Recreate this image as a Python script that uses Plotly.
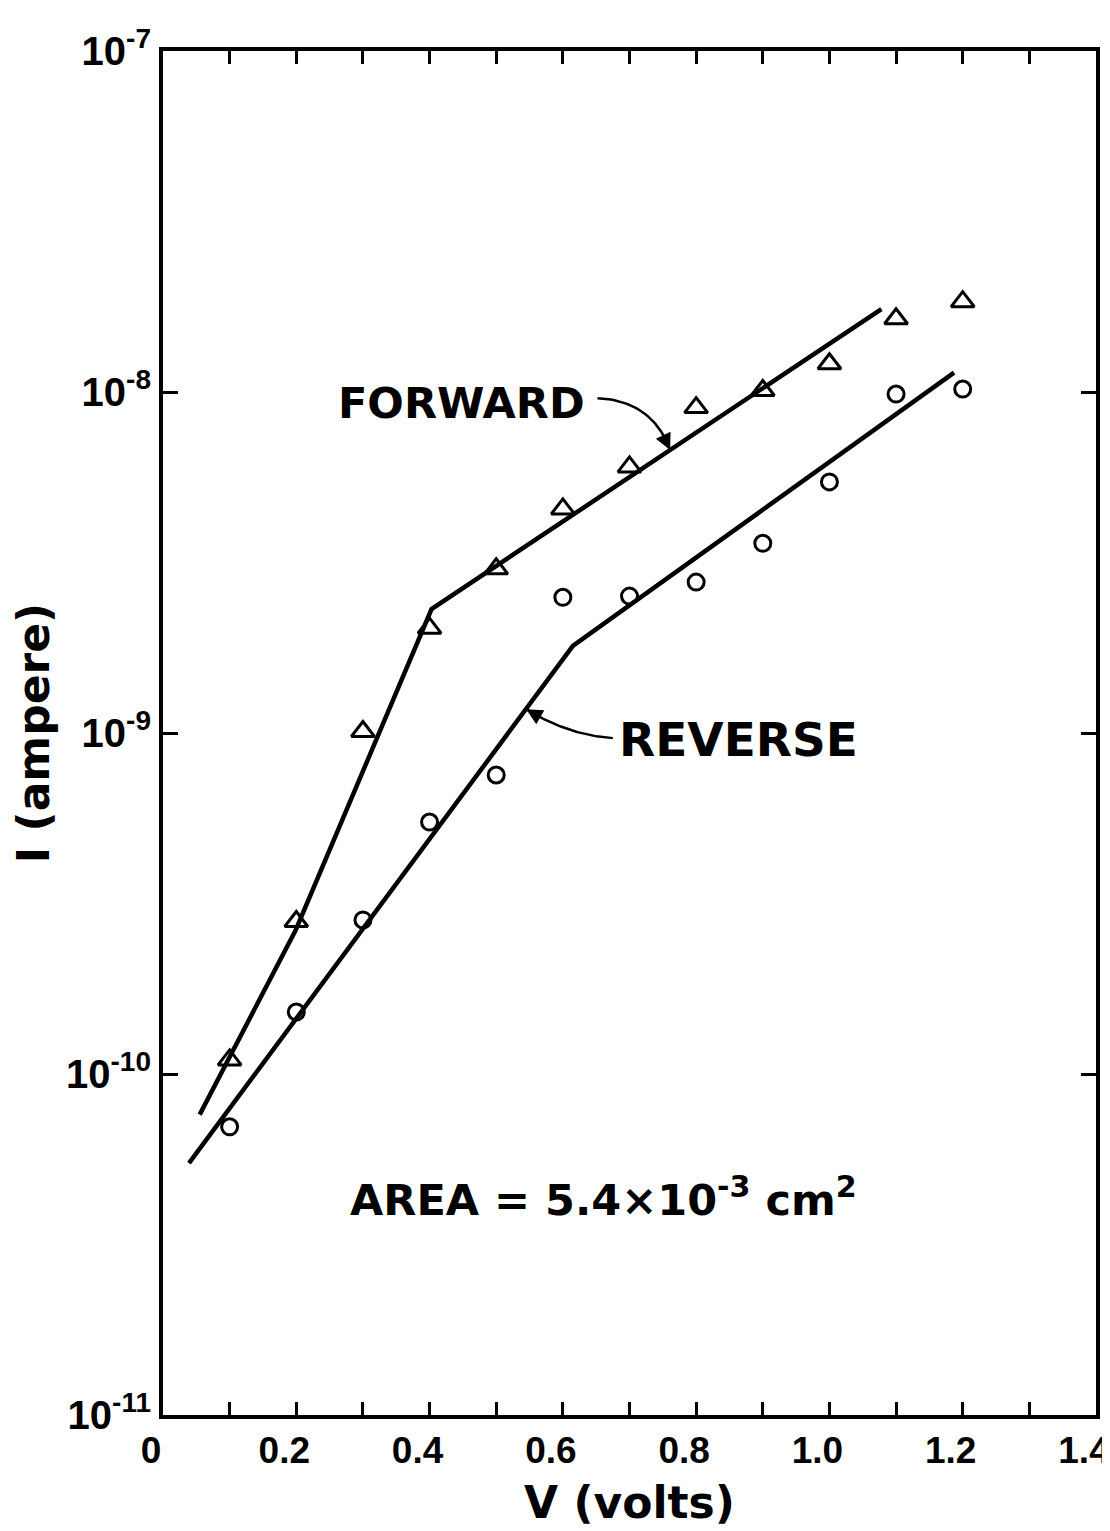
import numpy as np
import plotly.graph_objects as go

# ---------------- data ----------------
V_points = [0.1, 0.2, 0.3, 0.4, 0.5, 0.6, 0.7, 0.8, 0.9, 1.0, 1.1, 1.2]
I_forward = [1.1e-10, 2.8e-10, 1.01e-9, 2.03e-9, 3.03e-9, 4.54e-9,
             6.03e-9, 9.0e-9, 1.01e-8, 1.21e-8, 1.64e-8, 1.84e-8]
I_reverse = [7.0e-11, 1.52e-10, 2.83e-10, 5.48e-10, 7.53e-10, 2.5e-9,
             2.52e-9, 2.77e-9, 3.6e-9, 5.45e-9, 9.86e-9, 1.02e-8]

# fitted (hand-drawn) lines
V_fit_forward = [0.055, 0.199, 0.403, 1.078]
I_fit_forward = [7.6e-11, 2.64e-10, 2.31e-9, 1.75e-8]
V_fit_reverse = [0.039, 0.615, 1.187]
I_fit_reverse = [5.48e-11, 1.80e-9, 1.14e-8]

x_tick_vals = [0.0, 0.1, 0.2, 0.3, 0.4, 0.5, 0.6, 0.7, 0.8, 0.9, 1.0, 1.1, 1.2, 1.3, 1.4]
x_tick_text = ["0", "", "0.2", "", "0.4", "", "0.6", "", "0.8", "", "1.0", "", "1.2", "", "1.4"]
y_tick_vals = [1e-11, 1e-10, 1e-9, 1e-8, 1e-7]
y_tick_text = ["10<sup>-11</sup>", "10<sup>-10</sup>", "10<sup>-9</sup>",
               "10<sup>-8</sup>", "10<sup>-7</sup>"]

# annotation arrows: (start, control, tip) in (V, log10 I)
fwd_arrow = [(0.652, -8.018), (0.734, -8.026), (0.761, -8.170)]
rev_arrow = [(0.675, -9.015), (0.607, -9.006), (0.545, -8.930)]

FONT = "DejaVu Sans"
TICKFONT = "Liberation Sans"

W, H = 1110, 1531
ML, MR, MT, MB = 155, 22, 43, 124
PW, PH = W - ML - MR, H - MT - MB


def bezier(pts, n=40):
    (x0, y0), (x1, y1), (x2, y2) = pts
    t = np.linspace(0, 1, n)
    xs = (1 - t) ** 2 * x0 + 2 * (1 - t) * t * x1 + t ** 2 * x2
    ys = (1 - t) ** 2 * y0 + 2 * (1 - t) * t * y1 + t ** 2 * y2
    return xs, ys


fig = go.Figure()

fig.add_trace(go.Scatter(x=V_fit_forward, y=I_fit_forward, mode="lines",
                         line=dict(color="black", width=4.5), showlegend=False))
fig.add_trace(go.Scatter(x=V_fit_reverse, y=I_fit_reverse, mode="lines",
                         line=dict(color="black", width=4.5), showlegend=False))
fig.add_trace(go.Scatter(x=V_points, y=I_forward, mode="markers", name="Forward",
                         marker=dict(symbol="triangle-up-open", size=20, color="black",
                                     line=dict(width=3, color="black")),
                         showlegend=False))
fig.add_trace(go.Scatter(x=V_points, y=I_reverse, mode="markers", name="Reverse",
                         marker=dict(symbol="circle-open", size=16, color="black",
                                     line=dict(width=3, color="black")),
                         showlegend=False))

annotations = []
for pts in (fwd_arrow, rev_arrow):
    xs, ys = bezier(pts)
    fig.add_trace(go.Scatter(x=xs, y=10 ** ys, mode="lines",
                             line=dict(color="black", width=2.5), showlegend=False,
                             hoverinfo="skip"))
    annotations.append(dict(x=xs[-1], y=ys[-1], ax=xs[-8], ay=ys[-8],
                            xref="x", yref="y", axref="x", ayref="y",
                            text="", showarrow=True, arrowhead=2, arrowsize=1.3,
                            arrowwidth=2.5, arrowcolor="black"))

annotations += [
    dict(x=0.4478, y=-8.032, xref="x", yref="y", text="FORWARD", showarrow=False,
         font=dict(family=FONT, size=43, color="black", weight="bold")),
    dict(x=0.864, y=-9.018, xref="x", yref="y", text="REVERSE", showarrow=False,
         font=dict(family=FONT, size=47, color="black", weight="bold")),
    dict(x=0.661, y=-10.36, xref="x", yref="y",
         text="AREA = 5.4×10<sup>-3</sup> cm<sup>2</sup>", showarrow=False,
         font=dict(family=FONT, size=43, color="black", weight="bold")),
    dict(x=-ML / PW, y=-(1514 - (H - MB)) / PH, xref="paper", yref="paper", text="6.3",
         xanchor="left", yanchor="top", showarrow=False,
         font=dict(family=FONT, size=44, color="black")),
]

fig.update_layout(
    width=W, height=H,
    margin=dict(l=ML, r=MR, t=MT, b=MB, autoexpand=False),
    paper_bgcolor="white", plot_bgcolor="white",
    font=dict(family=FONT, color="black"),
    annotations=annotations,
    showlegend=False,
)
fig.update_xaxes(range=[0, 1.4], tickmode="array", tickvals=x_tick_vals, ticktext=x_tick_text,
                 ticks="inside", ticklen=13, tickwidth=3, tickcolor="black",
                 showline=True, linewidth=4, linecolor="black", mirror="ticks",
                 showgrid=False, zeroline=False, automargin=False,
                 ticklabelshift=-12,
                 tickfont=dict(family=TICKFONT, size=37, color="black", weight="bold"),
                 title=dict(text="V (volts)", standoff=18,
                            font=dict(family=FONT, size=44, color="black", weight="bold")))
fig.update_yaxes(type="log", range=[-11, -7], tickmode="array", tickvals=y_tick_vals,
                 ticktext=y_tick_text,
                 ticks="inside", ticklen=15, tickwidth=3, tickcolor="black",
                 showline=True, linewidth=4, linecolor="black", mirror="ticks",
                 showgrid=False, zeroline=False, automargin=False,
                 tickfont=dict(family=TICKFONT, size=40, color="black", weight="bold"),
                 title=dict(text="I (ampere)", standoff=30,
                            font=dict(family=FONT, size=44, color="black", weight="bold")))

fig.write_html("out.html")
